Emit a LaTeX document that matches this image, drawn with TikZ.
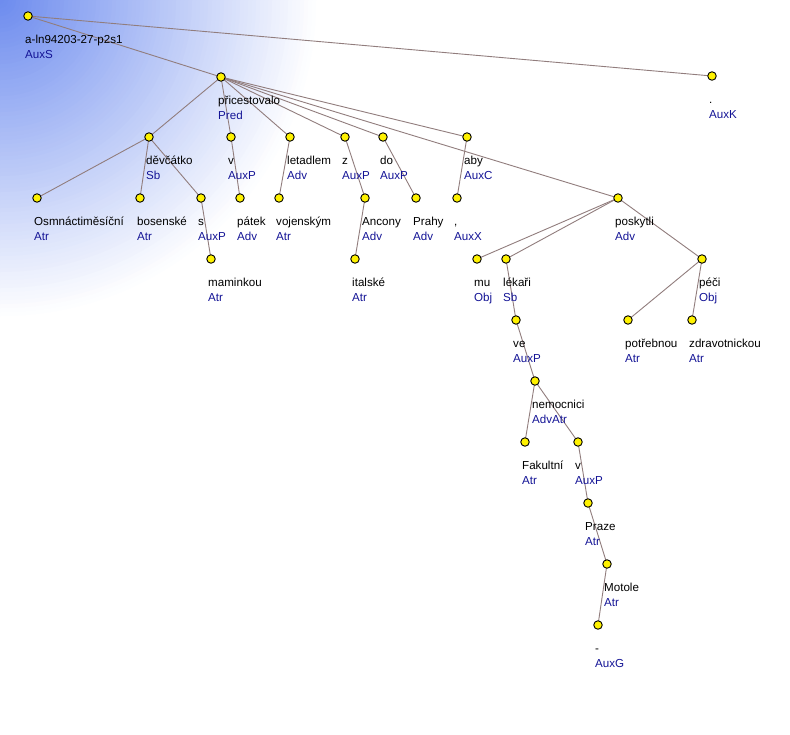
\documentclass[tikz,border=0pt]{standalone}
\usepackage{fontspec}
\setmainfont{Liberation Sans}
\pgfdeclarelayer{bglayer}
\pgfdeclarelayer{edgelayer}
\pgfsetlayers{bglayer,edgelayer,main}
\definecolor{bgblue}{RGB}{107,138,238}
\definecolor{edgecol}{RGB}{145,125,125}
\definecolor{funccol}{RGB}{20,20,150}
\tikzset{
  dot/.style={circle,draw=black,fill=yellow,line width=0.9pt,minimum size=8.5pt,inner sep=0pt},
  wordlbl/.style={anchor=base west,inner sep=0pt,text=black,font=\fontsize{11.6}{14}\selectfont},
  funclbl/.style={anchor=base west,inner sep=0pt,text=funccol,font=\fontsize{11.6}{14}\selectfont},
  edge/.style={draw=edgecol,line width=0.9pt}
}
\newcommand\tnode[5]{%
  \node[dot] (#1) at (#2,#3) {};
  \node[wordlbl] (#1-w) at (#2-3,#3+27) {#4};
  \node[funclbl] (#1-f) at (#2-3,#3+42) {#5};
}
\begin{document}
\begin{tikzpicture}[x=1pt,y=-1pt]
\useasboundingbox (0,0) rectangle (790,734);
\begin{pgfonlayer}{bglayer}
  \fill[white] (0,0) rectangle (790,734);
  \begin{scope}
    \clip (0,0) rectangle (790,734);
    \foreach \i in {80,79,...,1} {
      \pgfmathtruncatemacro\pct{100-\i*100/80}
      \fill[bgblue!\pct!white] (0,0) circle ({\i*4});
    }
  \end{scope}
\end{pgfonlayer}
\tnode{root}{28}{16}{a-ln94203-27-p2s1}{AuxS}
\tnode{auxk}{712}{76}{.}{AuxK}
\tnode{pred}{221}{77}{přicestovalo}{Pred}
\tnode{devc}{149}{137}{děvčátko}{Sb}
\tnode{va}{231}{137}{v}{AuxP}
\tnode{letadlem}{290}{137}{letadlem}{Adv}
\tnode{z}{345}{137}{z}{AuxP}
\tnode{do}{383}{137}{do}{AuxP}
\tnode{aby}{467}{137}{aby}{AuxC}
\tnode{poskytli}{618}{198}{poskytli}{Adv}
\tnode{osm}{37}{198}{Osmnáctiměsíční}{Atr}
\tnode{bos}{140}{198}{bosenské}{Atr}
\tnode{s}{201}{198}{s}{AuxP}
\tnode{patek}{240}{198}{pátek}{Adv}
\tnode{voj}{279}{198}{vojenským}{Atr}
\tnode{ancony}{365}{198}{Ancony}{Adv}
\tnode{prahy}{416}{198}{Prahy}{Adv}
\tnode{comma}{457}{198}{,}{AuxX}
\tnode{maminkou}{211}{259}{maminkou}{Atr}
\tnode{italske}{355}{259}{italské}{Atr}
\tnode{mu}{477}{259}{mu}{Obj}
\tnode{lekari}{506}{259}{lékaři}{Sb}
\tnode{peci}{702}{259}{péči}{Obj}
\tnode{ve}{516}{320}{ve}{AuxP}
\tnode{potrebnou}{628}{320}{potřebnou}{Atr}
\tnode{zdrav}{692}{320}{zdravotnickou}{Atr}
\tnode{nemocnici}{535}{381}{nemocnici}{AdvAtr}
\tnode{fakultni}{525}{442}{Fakultní}{Atr}
\tnode{vb}{578}{442}{v}{AuxP}
\tnode{praze}{588}{503}{Praze}{Atr}
\tnode{motole}{607}{564}{Motole}{Atr}
\tnode{dash}{598}{625}{-}{AuxG}
\begin{pgfonlayer}{edgelayer}
  \path[edge] (root.center) -- (pred.center);
  \path[edge] (root.center) -- (auxk.center);
  \foreach \c in {devc,va,letadlem,z,do,aby,poskytli}
    \path[edge] (pred.center) -- (\c.center);
  \foreach \c in {osm,bos,s}
    \path[edge] (devc.center) -- (\c.center);
  \path[edge] (s.center) -- (maminkou.center);
  \path[edge] (va.center) -- (patek.center);
  \path[edge] (letadlem.center) -- (voj.center);
  \path[edge] (z.center) -- (ancony.center);
  \path[edge] (ancony.center) -- (italske.center);
  \path[edge] (do.center) -- (prahy.center);
  \path[edge] (aby.center) -- (comma.center);
  \foreach \c in {mu,lekari,peci}
    \path[edge] (poskytli.center) -- (\c.center);
  \path[edge] (lekari.center) -- (ve.center);
  \path[edge] (ve.center) -- (nemocnici.center);
  \path[edge] (nemocnici.center) -- (fakultni.center);
  \path[edge] (nemocnici.center) -- (vb.center);
  \path[edge] (vb.center) -- (praze.center);
  \path[edge] (praze.center) -- (motole.center);
  \path[edge] (motole.center) -- (dash.center);
  \path[edge] (peci.center) -- (potrebnou.center);
  \path[edge] (peci.center) -- (zdrav.center);
\end{pgfonlayer}
\end{tikzpicture}
\end{document}
